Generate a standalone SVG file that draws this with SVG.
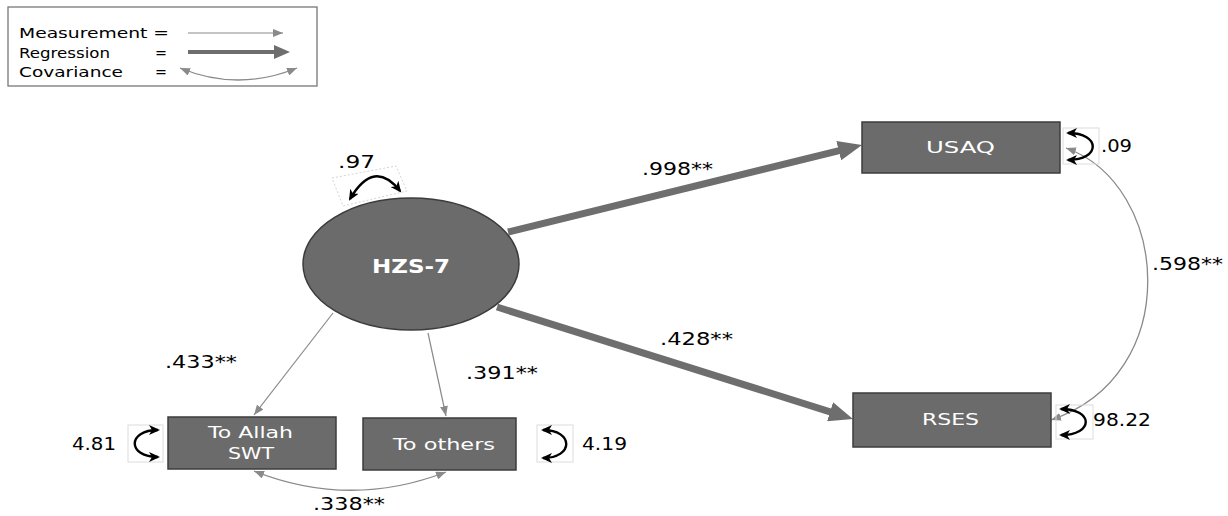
<svg xmlns="http://www.w3.org/2000/svg" width="1228" height="516" viewBox="0 0 1228 516">
<style>
text{font-family:"DejaVu Sans","Liberation Sans",sans-serif;fill:#000}
.lg{font-size:14px}
.lb{font-size:17px}
.nt{fill:#fff;font-size:16px}
.node{fill:#6b6b6b;stroke:#3c3c3c;stroke-width:1.5}
.reg{stroke:#6e6e6e;stroke-width:7;fill:none;marker-end:url(#hReg)}
.mea{stroke:#8a8a8a;stroke-width:1.2;fill:none;marker-end:url(#hMea)}
.cov{stroke:#8a8a8a;stroke-width:1.3;fill:none;marker-start:url(#hCov);marker-end:url(#hCov)}
.var{stroke:#000;stroke-width:2.4;fill:none;marker-start:url(#hVar);marker-end:url(#hVar)}
.vbox{fill:none;stroke:#dcdcdc;stroke-width:1}
</style>
<defs>
<marker id="hReg" markerUnits="userSpaceOnUse" markerWidth="24" markerHeight="20" refX="10" refY="10" orient="auto"><path d="M0,0 L24,10 L0,20 z" fill="#6e6e6e"/></marker>
<marker id="hRegS" markerUnits="userSpaceOnUse" markerWidth="16" markerHeight="14" refX="6" refY="7" orient="auto"><path d="M0,0 L16,7 L0,14 z" fill="#6e6e6e"/></marker>
<marker id="hMea" markerUnits="userSpaceOnUse" markerWidth="10" markerHeight="8" refX="10" refY="4" orient="auto"><path d="M0,0 L10,4 L0,8 z" fill="#8a8a8a"/></marker>
<marker id="hCov" markerUnits="userSpaceOnUse" markerWidth="10" markerHeight="8" refX="10" refY="4" orient="auto-start-reverse"><path d="M0,0 L10,4 L0,8 z" fill="#8a8a8a"/></marker>
<marker id="hVar" markerUnits="userSpaceOnUse" markerWidth="11" markerHeight="10" refX="9" refY="5" orient="auto-start-reverse"><path d="M0,0 L11,5 L0,10 L3,5 z" fill="#000"/></marker>
</defs>

<g id="legend">
<rect x="8" y="7" width="309" height="79" fill="#fff" stroke="#777" stroke-width="1.3"/>
<text class="lg" x="19" y="38" textLength="150" lengthAdjust="spacingAndGlyphs">Measurement =</text>
<text class="lg" x="19" y="58" textLength="91" lengthAdjust="spacingAndGlyphs">Regression</text>
<text class="lg" x="155" y="58" textLength="12" lengthAdjust="spacingAndGlyphs">=</text>
<text class="lg" x="19" y="77" textLength="104" lengthAdjust="spacingAndGlyphs">Covariance</text>
<text class="lg" x="155" y="77" textLength="12" lengthAdjust="spacingAndGlyphs">=</text>
<line x1="188" y1="33" x2="283" y2="33" class="mea"/>
<line x1="188" y1="52" x2="280" y2="52" stroke="#6e6e6e" stroke-width="4" marker-end="url(#hRegS)"/>
<path d="M180,68 Q238,92 297,68" class="cov"/>
</g>

<g id="connectors">
<line x1="508" y1="232" x2="848.4" y2="148.3" class="reg"/>
<line x1="497" y1="307" x2="839.6" y2="414.8" class="reg"/>
<line x1="333" y1="313" x2="254" y2="415" class="mea"/>
<line x1="428" y1="333" x2="446" y2="416" class="mea"/>
<path d="M254,471 Q350,509 446,472" class="cov"/>
<path d="M1066,148 C1170,185 1185,375 1051,420" class="cov"/>
</g>

<g id="variances">
<polygon points="332,178 396,166 407,191 343,206" fill="none" stroke="#c8c8c8" stroke-width="0.8" stroke-dasharray="2,2"/>
<path d="M350,199 Q374,158 400,191" class="var"/>
<rect x="1063" y="128" width="36" height="36" class="vbox"/>
<path d="M1068,133 C1101,133 1101,160 1068,160" class="var"/>
<rect x="1056" y="405" width="37" height="34" class="vbox"/>
<path d="M1061,409 C1094,409 1094,435 1061,435" class="var"/>
<rect x="128" y="425" width="35" height="37" class="vbox"/>
<path d="M158,430 C127,430 127,457 158,457" class="var"/>
<rect x="537" y="425" width="36" height="37" class="vbox"/>
<path d="M543,430 C574,430 574,458 543,458" class="var"/>
</g>

<g id="node-hzs7">
<ellipse cx="411" cy="264" rx="108" ry="66" class="node"/>
<text x="372" y="273" font-size="20" font-weight="bold" fill="#fff" style="fill:#fff" textLength="78" lengthAdjust="spacingAndGlyphs">HZS-7</text>
</g>
<g id="node-usaq">
<rect x="862" y="122" width="198" height="51" class="node"/>
<text class="nt" x="926" y="153" textLength="69" lengthAdjust="spacingAndGlyphs">USAQ</text>
</g>
<g id="node-rses">
<rect x="853" y="393" width="198" height="54" class="node"/>
<text class="nt" x="922" y="425" textLength="57" lengthAdjust="spacingAndGlyphs">RSES</text>
</g>
<g id="node-allah">
<rect x="168" y="417" width="168" height="52" class="node"/>
<text class="nt" x="208" y="438" textLength="85" lengthAdjust="spacingAndGlyphs">To Allah</text>
<text class="nt" x="228" y="459" textLength="46" lengthAdjust="spacingAndGlyphs">SWT</text>
</g>
<g id="node-others">
<rect x="363" y="418" width="153" height="52" class="node"/>
<text class="nt" x="393" y="450" textLength="102" lengthAdjust="spacingAndGlyphs">To others</text>
</g>

<g id="labels">
<text class="lb" x="338" y="168" textLength="37" lengthAdjust="spacingAndGlyphs">.97</text>
<text class="lb" x="642" y="175" textLength="71" lengthAdjust="spacingAndGlyphs">.998**</text>
<text class="lb" x="660" y="345" textLength="73" lengthAdjust="spacingAndGlyphs">.428**</text>
<text class="lb" x="466" y="379" textLength="72" lengthAdjust="spacingAndGlyphs">.391**</text>
<text class="lb" x="165" y="368" textLength="72" lengthAdjust="spacingAndGlyphs">.433**</text>
<text class="lb" x="313" y="510" textLength="72" lengthAdjust="spacingAndGlyphs">.338**</text>
<text class="lb" x="1152" y="270" textLength="71" lengthAdjust="spacingAndGlyphs">.598**</text>
<text class="lb" x="1101" y="152" textLength="31" lengthAdjust="spacingAndGlyphs">.09</text>
<text class="lb" x="1093" y="426" textLength="58" lengthAdjust="spacingAndGlyphs">98.22</text>
<text class="lb" x="72" y="450" textLength="44" lengthAdjust="spacingAndGlyphs">4.81</text>
<text class="lb" x="582" y="450" textLength="45" lengthAdjust="spacingAndGlyphs">4.19</text>
</g>
</svg>
